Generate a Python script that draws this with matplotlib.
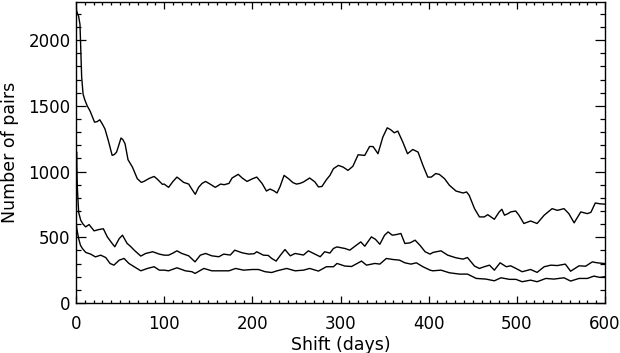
import matplotlib
matplotlib.use("Agg")
import matplotlib.pyplot as plt
from matplotlib.ticker import MultipleLocator

# Shift (days) and number of pairs for three series
top_days = [0, 1, 3, 4.5, 6.4, 8, 10, 12.7, 16, 21, 24, 27, 30, 32.8, 36.6, 41, 43.5, 46, 48.5, 51,
            53, 55.6, 59, 64, 69.5, 74, 77, 83, 88.6, 92.4, 98, 100, 105, 110, 114.5, 118, 122,
            127.8, 131, 135.3, 139, 143, 147, 152, 158, 164, 168, 173.5, 177, 184, 188.5, 194,
            200, 205, 211, 216, 220, 224, 228, 231.5, 236, 241, 246, 250, 254, 258, 265, 271,
            275, 279, 284, 288, 292, 297.6, 303, 308.5, 314, 320, 327.5, 333, 337, 342.5, 348,
            353, 357, 361, 365, 370.7, 376, 382, 388, 393.5, 399, 403, 408, 412, 418, 423.5,
            431, 439, 443, 446, 452, 457.6, 463, 467, 474.5, 480, 483, 486, 490, 493, 498.7,
            502.4, 508, 515.6, 523, 531, 540, 546, 553.5, 559, 565, 572.5, 580, 584, 589, 594,
            600]
top_vals = [2250, 2215, 2180, 2120, 1720, 1590, 1545, 1500, 1460, 1376, 1380, 1394, 1360, 1325,
            1237, 1123, 1130, 1148, 1200, 1255, 1245, 1212, 1090, 1034, 946, 918, 925, 948,
            963, 941, 903, 905, 880, 925, 958, 940, 918, 905, 870, 827, 880, 910, 925, 905, 880,
            905, 900, 910, 951, 979, 951, 925, 945, 958, 910, 852, 867, 855, 837, 887, 971,
            946, 916, 905, 910, 921, 951, 921, 883, 887, 938, 971, 1022, 1047, 1034, 1009,
            1040, 1128, 1123, 1191, 1190, 1136, 1262, 1333, 1318, 1295, 1308, 1224, 1136,
            1168, 1148, 1047, 958, 958, 985, 979, 946, 896, 852, 837, 845, 819, 718, 655, 655,
            672, 637, 693, 713, 668, 680, 693, 700, 668, 605, 624, 605, 668, 718, 705, 718,
            680, 610, 693, 680, 690, 761, 755, 752]

mid_days = [0, 0.6, 1.5, 3, 5.3, 8, 11, 14.8, 20.5, 26, 31, 35.5, 41, 44, 49, 52.7, 58, 62, 66,
            73.5, 79, 87, 94.5, 100, 105, 110, 114.5, 120, 127.8, 135, 141, 147, 154, 162,
            167.5, 175, 180, 188.5, 196, 202, 205, 212.5, 218, 222, 227, 232, 237, 243, 248.5,
            258, 263.5, 271, 277, 282, 288, 292, 296, 301, 305, 310.5, 318, 323, 327.5, 335,
            339.6, 344.6, 350, 354, 358.7, 363.6, 368.5, 373, 379, 384.6, 390, 396, 401.6,
            405, 414, 421.6, 431, 439, 444, 452, 457.6, 463, 469, 474.5, 481, 488, 493, 499,
            506, 515.6, 523, 531, 538.6, 546, 555, 561, 570.6, 578, 585.6, 591, 598.5, 600]
mid_vals = [900, 1150, 880, 690, 630, 600, 579, 597, 549, 559, 565, 503, 453, 428, 490, 516,
            453, 430, 402, 357, 377, 390, 372, 364, 364, 380, 397, 377, 359, 313, 364, 377,
            359, 352, 372, 365, 402, 382, 372, 375, 390, 364, 362, 339, 319, 365, 407, 359,
            377, 365, 397, 372, 352, 390, 380, 415, 427, 420, 415, 402, 440, 465, 432, 503,
            485, 447, 516, 541, 516, 521, 529, 453, 458, 478, 440, 390, 372, 385, 397, 364,
            344, 334, 346, 281, 263, 276, 288, 250, 306, 276, 283, 263, 238, 255, 233, 276,
            288, 285, 296, 242, 283, 280, 313, 306, 301, 300]

bot_days = [0, 1, 3, 5, 7.2, 11, 16.6, 22, 28, 33.7, 38.6, 43, 49, 54.5, 60, 66, 73.5, 81,
            88.6, 94.5, 100, 105, 114.5, 124, 131.6, 135, 145, 154, 164, 173.5, 181, 190,
            200, 207, 214.6, 222, 228, 239, 248.5, 258, 265, 275, 284, 292, 296, 301, 305,
            312.6, 323.8, 329.5, 339, 344.6, 352, 359.6, 367, 373, 380, 386, 393.5, 401.6,
            404.6, 414, 423.5, 435, 444, 454, 465, 474.5, 482, 491.6, 499, 506, 515.6, 523,
            533, 542, 553.5, 561, 570.6, 580, 587.5, 594, 600]
bot_vals = [620, 560, 490, 440, 415, 385, 372, 351, 364, 346, 301, 288, 326, 339, 301, 276,
            245, 263, 276, 250, 250, 245, 268, 245, 238, 225, 263, 245, 245, 245, 263, 250,
            255, 255, 238, 232, 245, 263, 245, 250, 263, 243, 276, 276, 301, 290, 281, 278,
            319, 288, 301, 296, 339, 331, 326, 306, 296, 306, 276, 250, 245, 250, 230, 220,
            220, 187, 182, 169, 192, 180, 180, 162, 174, 162, 187, 182, 192, 167, 187, 187,
            205, 195, 200]

xticks = [0, 100, 200, 300, 400, 500, 600]
yticks = [0, 500, 1000, 1500, 2000]

fig = plt.figure(figsize=(6.2, 3.53), dpi=100)
ax = fig.add_axes([0.1226, 0.1416, 0.8532, 0.8527])

for d, v in [(top_days, top_vals), (mid_days, mid_vals), (bot_days, bot_vals)]:
    ax.plot(d, v, color="black", lw=1.0)

ax.set_xlim(0, 600)
ax.set_ylim(0, 2290)
ax.set_xticks(xticks)
ax.set_yticks(yticks)
ax.xaxis.set_minor_locator(MultipleLocator(10))
ax.yaxis.set_minor_locator(MultipleLocator(100))

ax.tick_params(axis="both", which="both", direction="in", top=True, right=True,
               labelsize=12, colors="black")
ax.tick_params(axis="x", which="major", length=5, width=0.9, pad=8.5)
ax.tick_params(axis="x", which="minor", length=2.5, width=0.9)
ax.tick_params(axis="y", which="major", length=7.5, width=0.9, pad=4)
ax.tick_params(axis="y", which="minor", length=3.8, width=0.9)
for s in ax.spines.values():
    s.set_linewidth(1.0)

ax.set_xlabel("Shift (days)", fontsize=12.5, labelpad=2)
ax.set_ylabel("Number of pairs", fontsize=12.5, labelpad=7)

fig.savefig("out.png", dpi=100)
